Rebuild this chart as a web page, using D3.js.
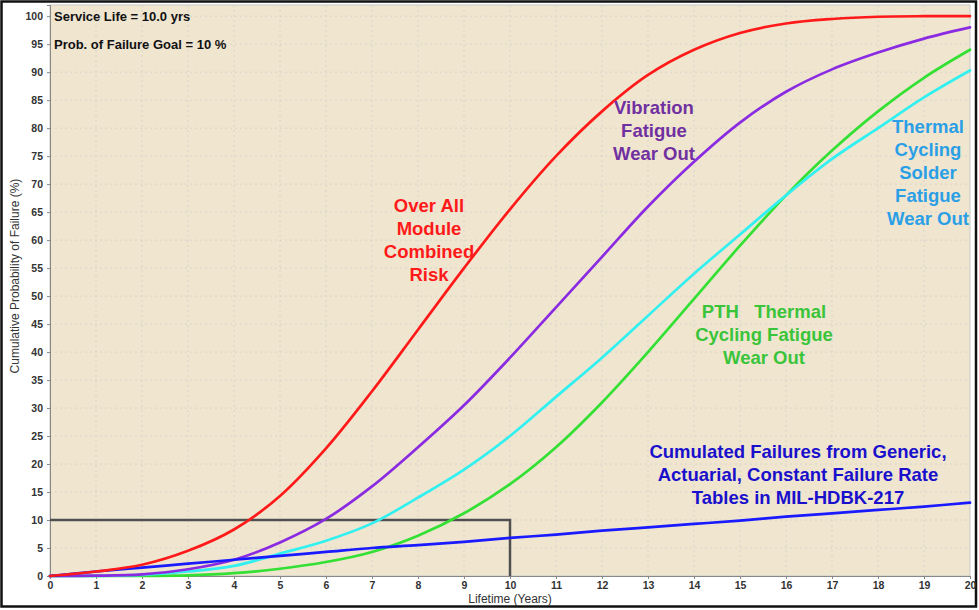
<!DOCTYPE html>
<html>
<head>
<meta charset="utf-8">
<script src="https://cdn.jsdelivr.net/npm/d3@7/dist/d3.min.js"></script>
<style>
html,body{margin:0;padding:0;background:#fff;}
svg{display:block;}
text{font-family:"Liberation Sans",Arial,sans-serif;}
</style>
</head>
<body>
<svg id="chart" width="979" height="610"></svg>
<script>
// ---- data ----
const years = [0,1,2,3,4,5,6,7,8,9,10,11,12,13,14,15,16,17,18,19,20];
const overallRisk   = [0,0.8,2,4.5,8.3,14.3,22.8,33,44,55,65.5,75,83,89.5,94,97,98.7,99.5,99.9,100,100];
const vibration     = [0,0.05,0.3,1.2,2.9,6,10.2,16,23,30.5,39,48,57,66,74,81,86.5,90.5,93.5,96,98];
const solderFatigue = [0,0.02,0.2,0.8,1.8,4,6.3,9.4,14,19,25,32,39,46.5,54,61,68,74.5,80,85.5,90.3];
const pthFatigue    = [0,0,0.02,0.1,0.5,1.3,2.5,4.3,7.2,11.2,16.4,23,31,40,49.5,59,68,76,83,89,94];
const milHdbk       = [0,0.8,1.5,2.2,2.9,3.6,4.3,5,5.5,6.1,6.8,7.4,8.1,8.7,9.3,9.9,10.6,11.2,11.8,12.4,13.1];
const xTicks = d3.range(0,21,1);
const yTicks = d3.range(0,101,5);
const serviceLife = 10;
const failureGoal = 10;

const series = [
  {name:"overall", values: overallRisk,   color:"#ff1a1a"},
  {name:"vib",     values: vibration,     color:"#8a2be2"},
  {name:"solder",  values: solderFatigue, color:"#33f0f0"},
  {name:"pth",     values: pthFatigue,    color:"#33e033"},
  {name:"mil",     values: milHdbk,       color:"#1a1aff"}
];

const labels = [
  {lines:["Over All","Module","Combined","Risk"], x:429, y:206, color:"#ff1a1a"},
  {lines:["Vibration","Fatigue","Wear Out"], x:654, y:108, color:"#7030a0"},
  {lines:["Thermal","Cycling","Solder","Fatigue","Wear Out"], x:928, y:127, color:"#2b9fe6"},
  {lines:["PTH   Thermal","Cycling Fatigue","Wear Out"], x:764, y:312, color:"#3ac43a"},
  {lines:["Cumulated Failures from Generic,","Actuarial, Constant Failure Rate","Tables in MIL-HDBK-217"], x:798, y:452, color:"#1a10cc"}
];

const svg = d3.select("#chart");
const pLeft = 50, pRight = 970, pTop = 5, pBottom = 576;

const x = d3.scaleLinear().domain([0,20]).range([pLeft,pRight]);
const y = d3.scaleLinear().domain([0,102]).range([pBottom, pTop]);

// outer frame
svg.append("rect").attr("x",1.5).attr("y",1.5).attr("width",974.5).attr("height",605)
  .attr("fill","#fff").attr("stroke","#111").attr("stroke-width",2.5);

// plot background
svg.append("rect").attr("x",pLeft).attr("y",pTop).attr("width",pRight-pLeft).attr("height",pBottom-pTop)
  .attr("fill","#f0e6d0").attr("stroke","#c8c8c8").attr("stroke-width",1);

// grid
const grid = svg.append("g");
grid.selectAll("line.gx").data(xTicks.slice(1,-1)).join("line")
  .attr("x1",d=>x(d)).attr("x2",d=>x(d)).attr("y1",pTop).attr("y2",pBottom)
  .attr("stroke","#d8d4cc").attr("stroke-width",1).attr("stroke-dasharray","2,3");
grid.selectAll("line.gy").data(yTicks.slice(1)).join("line")
  .attr("x1",pLeft).attr("x2",pRight).attr("y1",d=>y(d)).attr("y2",d=>y(d))
  .attr("stroke","#d8d4cc").attr("stroke-width",1).attr("stroke-dasharray","2,3");

// axes
const xAxis = svg.append("g").attr("transform",`translate(0,${pBottom})`)
  .call(d3.axisBottom(x).tickValues(xTicks).tickSize(3).tickPadding(3).tickFormat(d3.format("d")));
const yAxis = svg.append("g").attr("transform",`translate(${pLeft},0)`)
  .call(d3.axisLeft(y).tickValues(yTicks).tickSize(3).tickPadding(4).tickFormat(d3.format("d")));
[xAxis,yAxis].forEach(a=>{
  a.select(".domain").attr("stroke","#888").attr("stroke-width",1);
  a.selectAll(".tick line").attr("stroke","#888");
  a.selectAll(".tick text").attr("fill","#333").attr("font-size",10.5).attr("font-weight","bold")
    .style("font-family","'Liberation Sans',Arial,sans-serif");
});

// axis titles
svg.append("text").attr("x",(pLeft+pRight)/2).attr("y",603).attr("text-anchor","middle")
  .attr("font-size",12).attr("fill","#333").text("Lifetime (Years)");
svg.append("text").attr("transform",`translate(19,276) rotate(-90)`)
  .attr("text-anchor","middle").attr("font-size",12).attr("fill","#333")
  .text("Cumulative Probability of Failure (%)");

// goal box
svg.append("path")
  .attr("d", `M${x(0)},${y(failureGoal)} L${x(serviceLife)},${y(failureGoal)} L${x(serviceLife)},${y(0)}`)
  .attr("fill","none").attr("stroke","#505050").attr("stroke-width",2.5);

// lines
const line = d3.line().x((d,i)=>x(years[i])).y(d=>y(Math.min(d,100))).curve(d3.curveCatmullRom.alpha(0.5));
const order = ["pth","solder","vib","mil","overall"];
order.forEach(n=>{
  const s = series.find(s=>s.name===n);
  svg.append("path").datum(s.values).attr("d",line)
    .attr("fill","none").attr("stroke",s.color).attr("stroke-width",2.7)
    .attr("stroke-linejoin","round").attr("stroke-linecap","round");
});

// info text
svg.append("text").attr("x",54).attr("y",21).attr("font-size",13).attr("font-weight","bold")
  .attr("fill","#111").text("Service Life = 10.0 yrs");
svg.append("text").attr("x",54).attr("y",49).attr("font-size",13).attr("font-weight","bold")
  .attr("fill","#111").text("Prob. of Failure Goal = 10 %");

// curve labels
labels.forEach(l=>{
  const t = svg.append("text").attr("text-anchor","middle").attr("font-size",18.5)
    .attr("font-weight","bold").attr("fill",l.color).style("white-space","pre");
  l.lines.forEach((ln,i)=>{
    t.append("tspan").attr("x",l.x).attr("y",l.y + i*23).attr("dy","0.35em").text(ln);
  });
});
</script>
</body>
</html>
